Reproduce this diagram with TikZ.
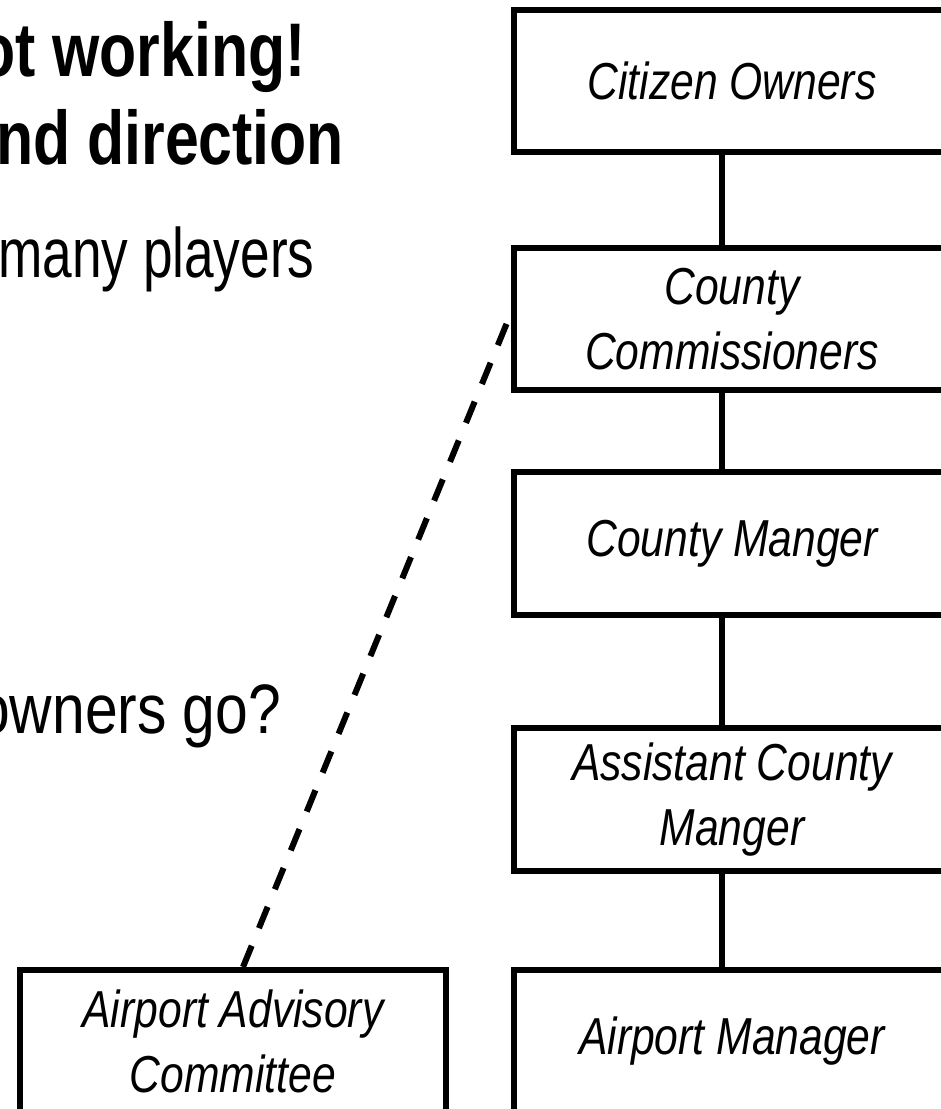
\documentclass[tikz,border=0pt]{standalone}
\usepackage{fontspec}
\setmainfont{Liberation Sans}
\newfontfamily\headfont[FakeStretch=0.80]{Liberation Sans}
\newfontfamily\bodyfont[FakeStretch=0.76]{Liberation Sans}
\newfontfamily\bodywidefont[FakeStretch=0.84]{Liberation Sans}
\newfontfamily\lblfont[FakeStretch=0.82]{Liberation Sans}
\usetikzlibrary{calc}
\tikzset{
  orgbox/.style={draw=black, line width=6pt, fill=white, inner sep=0pt, align=center,
    font=\lblfont\itshape\fontsize{52}{65}\selectfont},
  conn/.style={line width=6pt, draw=black},
  dashconn/.style={line width=6pt, draw=black, dash pattern=on 23pt off 19pt},
  headtxt/.style={anchor=base west, inner sep=0pt, font=\headfont\bfseries\fontsize{76}{80}\selectfont},
  bodytxt/.style={anchor=base west, inner sep=0pt, font=\bodyfont\fontsize{70}{75}\selectfont},
  bodywidetxt/.style={anchor=base west, inner sep=0pt, font=\bodywidefont\fontsize{70}{75}\selectfont}
}
\begin{document}
\begin{tikzpicture}[x=1pt,y=-1pt]
\useasboundingbox (0,0) rectangle (941,1109);
\clip (0,0) rectangle (941,1109);
\fill[white] (0,0) rectangle (941,1109);

\coordinate (spine) at (722,0);

% left text
\node[headtxt] (t1) at (-22,76) {ot working!};
\node[headtxt] (t2) at (-4,164) {nd direction};
\node[bodytxt] (t3) at (-2,277) {many players};
\node[bodywidetxt] (t4) at (-23,733) {owners go?};

% dashed connector (behind boxes)
\node[orgbox, minimum width=436pt, minimum height=142pt] (comm) at (732,319) {County\\Commissioners};
\node[orgbox, minimum width=426pt, minimum height=143pt] (adv) at (233,1041.5) {Airport Advisory\\Committee};
\draw[dashconn] ($(adv.north)+(10,0)$) -- ($(comm.west)+(0,-6)$);

% right column boxes
\node[orgbox, minimum width=436pt, minimum height=142pt] (cit) at (732,80.5) {Citizen Owners};
\node[orgbox, minimum width=436pt, minimum height=143pt] (mgr) at (732,543.5) {County Manger};
\node[orgbox, minimum width=436pt, minimum height=143pt] (asst) at (732,799.5) {Assistant County\\Manger};
\node[orgbox, minimum width=436pt, minimum height=143pt] (apm) at (732,1041.5) {Airport Manager};

% solid connectors
\draw[conn] (cit.south -| spine) -- (comm.north -| spine);
\draw[conn] (comm.south -| spine) -- (mgr.north -| spine);
\draw[conn] (mgr.south -| spine) -- (asst.north -| spine);
\draw[conn] (asst.south -| spine) -- (apm.north -| spine);
\end{tikzpicture}
\end{document}
